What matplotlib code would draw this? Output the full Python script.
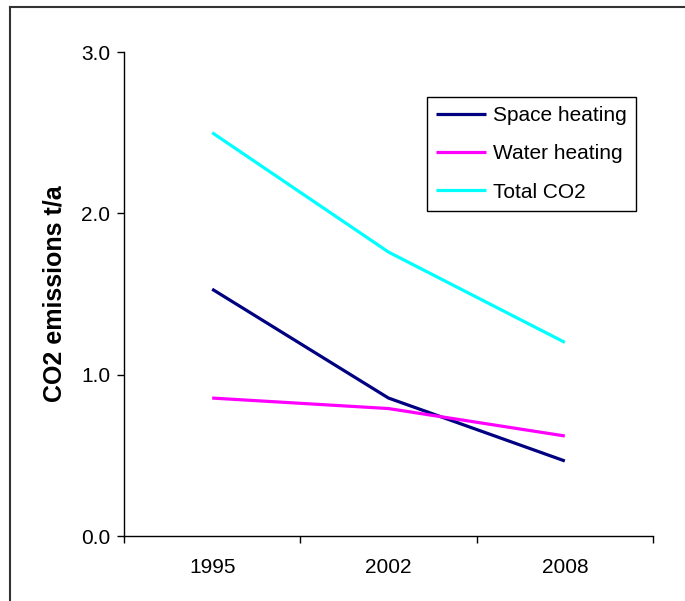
import matplotlib
matplotlib.use("Agg")
import matplotlib.pyplot as plt
from matplotlib.lines import Line2D

plt.rcParams['font.family'] = ['Liberation Sans', 'DejaVu Sans']

# data
years = ["1995", "2002", "2008"]
space_heating = [1.53, 0.855, 0.465]
water_heating = [0.855, 0.79, 0.62]
total_co2 = [2.50, 1.76, 1.20]
yticks = [0.0, 1.0, 2.0, 3.0]

fig = plt.figure(figsize=(6.85, 6.01), dpi=100)
ax = fig.add_axes([124/685, 1-536/601, (653-124)/685, (536-52)/601])

x = range(len(years))
ax.plot(x, space_heating, color="#000080", linewidth=2.3, label="Space heating", solid_capstyle="butt")
ax.plot(x, water_heating, color="#FF00FF", linewidth=2.3, label="Water heating", solid_capstyle="butt")
ax.plot(x, total_co2, color="#00FFFF", linewidth=2.3, label="Total CO2", solid_capstyle="butt")

ax.set_xlim(-0.5, len(years) - 0.5)
ax.set_ylim(0, 3.0)

# category labels centred, tick marks between categories
ax.set_xticks(list(x))
ax.set_xticklabels(years, fontsize=15)
ax.set_xticks([-0.5, 0.5, 1.5, 2.5], minor=True)
ax.tick_params(axis='x', which='major', length=0, pad=16)
ax.tick_params(axis='x', which='minor', length=5, direction='out', width=1)

ax.set_yticks(yticks)
ax.set_yticklabels(["%.1f" % v for v in yticks], fontsize=15)
ax.tick_params(axis='y', length=5, direction='out', width=1, pad=5)

ax.set_ylabel("CO2 emissions t/a", fontsize=18, fontweight='bold', labelpad=10)

ax.spines['right'].set_visible(False)
ax.spines['top'].set_visible(False)
ax.spines['left'].set_linewidth(1)
ax.spines['bottom'].set_linewidth(1)

leg = ax.legend(loc='upper left', bbox_to_anchor=(427/685, 1-96.5/601),
                bbox_transform=fig.transFigure, borderaxespad=0,
                fancybox=False, edgecolor='black', fontsize=15,
                handlelength=2.4, handletextpad=0.3, labelspacing=0.93,
                borderpad=0.45, framealpha=1)
leg.get_frame().set_linewidth(1)

# outer border (only top and left visible in the original)
fig.add_artist(Line2D([10/685, 10/685], [0, 1-6.5/601], transform=fig.transFigure, color='#333333', linewidth=1.5))
fig.add_artist(Line2D([10/685, 1], [1-6.5/601, 1-6.5/601], transform=fig.transFigure, color='#333333', linewidth=1.5))

fig.savefig("out.png", dpi=100)
